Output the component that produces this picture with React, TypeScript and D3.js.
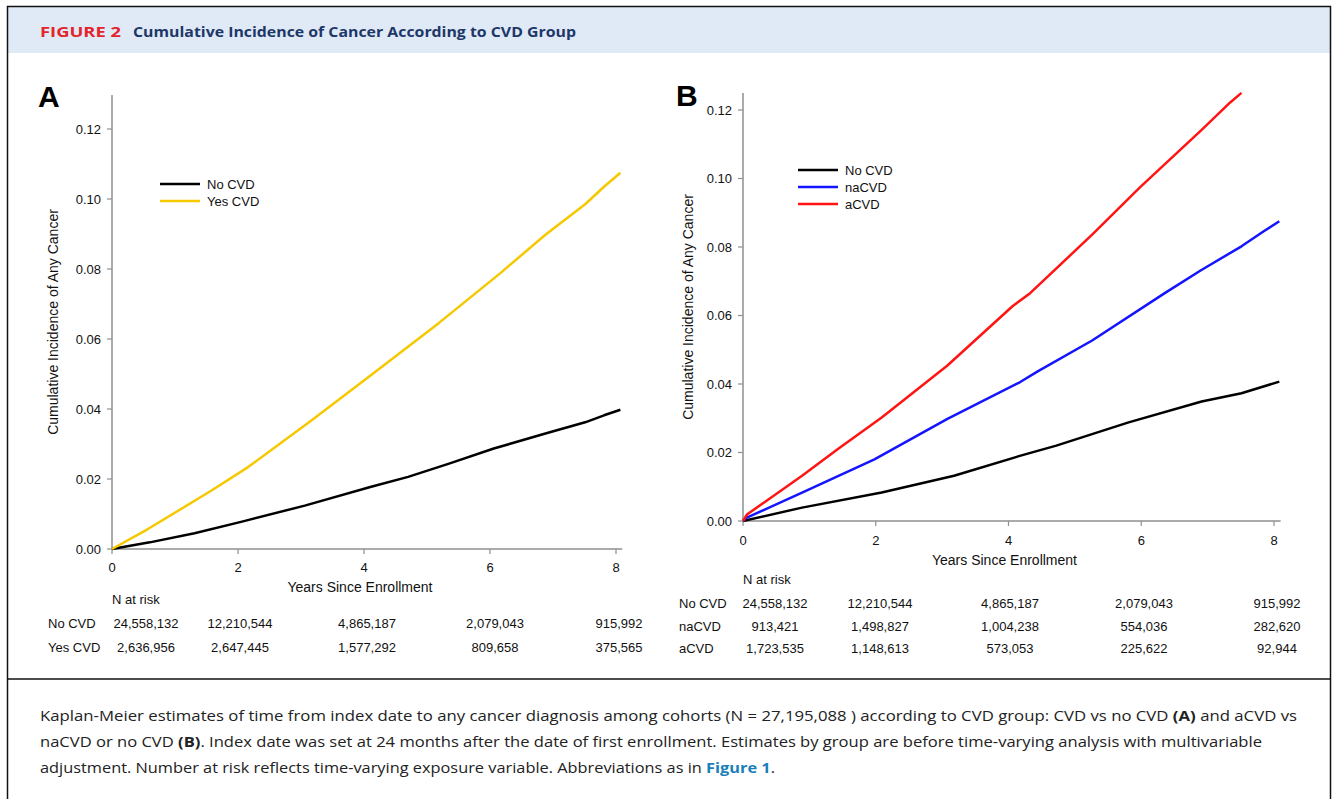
import React from "react";
import * as d3 from "d3";

// ---------- Data ----------
const yearTicks = [0, 2, 4, 6, 8];
const incidenceTicks = [0, 0.02, 0.04, 0.06, 0.08, 0.1, 0.12];

// Panel A
const aNoCvd: [number, number][] = [
  [0, 0], [0.6, 0.0019], [1.31, 0.0045], [2.08, 0.0079], [3.06, 0.0124], [4.1, 0.0177],
  [4.7, 0.0206], [5.35, 0.0244], [6.06, 0.0287], [6.88, 0.033], [7.51, 0.0362],
  [7.81, 0.0382], [8.07, 0.0398],
];
const aYesCvd: [number, number][] = [
  [0, 0], [0.57, 0.0057], [1.58, 0.0167], [2.16, 0.0234], [3.17, 0.0368], [4.15, 0.0502],
  [5.19, 0.0646], [6.17, 0.0789], [6.88, 0.0898], [7.51, 0.0985], [7.81, 0.1035], [8.07, 0.1075],
];

// Panel B
const bNoCvd: [number, number][] = [
  [0, 0], [0.89, 0.0039], [2.09, 0.0083], [3.18, 0.0132], [4.17, 0.019], [4.72, 0.022],
  [5.81, 0.0288], [6.91, 0.0349], [7.51, 0.0373], [8.08, 0.0407],
];
const bNaCvd: [number, number][] = [
  [0, 0], [0.05, 0.0009], [0.89, 0.0083], [1.98, 0.018], [3.08, 0.0298], [4.17, 0.0405],
  [4.44, 0.0437], [5.26, 0.0527], [6.36, 0.0666], [6.9, 0.0732], [7.51, 0.0802],
  [7.84, 0.0845], [8.08, 0.0875],
];
const bACvd: [number, number][] = [
  [0, 0], [0.06, 0.0019], [0.89, 0.0132], [1.43, 0.021], [2.09, 0.0302], [3.08, 0.0454],
  [4.06, 0.0627], [4.33, 0.0666], [5.26, 0.0836], [5.98, 0.0974], [6.91, 0.1142],
  [7.34, 0.1222], [7.51, 0.1250],
];

const riskA = [
  { label: "No CVD", values: ["24,558,132", "12,210,544", "4,865,187", "2,079,043", "915,992"] },
  { label: "Yes CVD", values: ["2,636,956", "2,647,445", "1,577,292", "809,658", "375,565"] },
];
const riskB = [
  { label: "No CVD", values: ["24,558,132", "12,210,544", "4,865,187", "2,079,043", "915,992"] },
  { label: "naCVD", values: ["913,421", "1,498,827", "1,004,238", "554,036", "282,620"] },
  { label: "aCVD", values: ["1,723,535", "1,148,613", "573,053", "225,622", "92,944"] },
];

const ARIAL = "'Liberation Sans', Arial, sans-serif";
const SANS = "'Open Sans', 'Noto Sans', sans-serif";

type Series = { name: string; color: string; data: [number, number][] };

type PanelProps = {
  letter: string;
  letterX: number;
  letterY: number;
  x0: number;
  x1: number;
  xEnd: number;
  yBottom: number;
  yTopTick: number;
  yAxisTop: number;
  series: Series[];
  legendX: number;
  legendY: number;
  yLabelX: number;
  xLabelY: number;
  tickLabelDy: number;
  riskRows: { label: string; values: string[] }[];
  riskTitleY: number;
  riskRowY0: number;
  riskRowGap: number;
  riskLabelX: number;
  riskColX: number[];
};

function Panel(p: PanelProps) {
  const x = d3.scaleLinear().domain([0, 8]).range([p.x0, p.x1]);
  const y = d3.scaleLinear().domain([0, 0.12]).range([p.yBottom, p.yTopTick]);
  const line = d3
    .line<[number, number]>()
    .x((d) => x(d[0]))
    .y((d) => y(d[1]));
  const axisColor = "#8f8f8f";
  const midX = (p.x0 + p.x1) / 2;
  return (
    <g>
      <text x={p.letterX} y={p.letterY} fontFamily={ARIAL} fontWeight="bold" fontSize={30} fill="#000">
        {p.letter}
      </text>
      {/* axes */}
      <line x1={p.x0} x2={p.x0} y1={p.yAxisTop} y2={p.yBottom} stroke={axisColor} strokeWidth={1.5} />
      <line x1={p.x0} x2={x(p.xEnd)} y1={p.yBottom} y2={p.yBottom} stroke={axisColor} strokeWidth={1.5} />
      {incidenceTicks.map((t) => (
        <g key={"y" + t}>
          <line x1={p.x0 - 5} x2={p.x0} y1={y(t)} y2={y(t)} stroke={axisColor} strokeWidth={1.2} />
          <text x={p.x0 - 11} y={y(t)} dy="0.35em" textAnchor="end" fontFamily={ARIAL} fontSize={13} fill="#111">
            {t.toFixed(2)}
          </text>
        </g>
      ))}
      {yearTicks.map((t) => (
        <g key={"x" + t}>
          <line x1={x(t)} x2={x(t)} y1={p.yBottom} y2={p.yBottom + 5} stroke={axisColor} strokeWidth={1.2} />
          <text x={x(t)} y={p.yBottom + p.tickLabelDy} textAnchor="middle" fontFamily={ARIAL} fontSize={13} fill="#111">
            {t}
          </text>
        </g>
      ))}
      <text x={midX - 4} y={p.xLabelY} textAnchor="middle" fontFamily={ARIAL} fontSize={14} fill="#111">
        Years Since Enrollment
      </text>
      <text
        transform={`translate(${p.yLabelX},${(p.yAxisTop + p.yBottom) / 2}) rotate(-90)`}
        textAnchor="middle"
        fontFamily={ARIAL}
        fontSize={14}
        fill="#111"
      >
        Cumulative Incidence of Any Cancer
      </text>
      {/* curves */}
      {p.series.map((s) => (
        <path key={s.name} d={line(s.data) || ""} fill="none" stroke={s.color} strokeWidth={2.5} strokeLinejoin="round" />
      ))}
      {/* legend */}
      {p.series.map((s, i) => (
        <g key={"lg" + s.name}>
          <line
            x1={p.legendX}
            x2={p.legendX + 40}
            y1={p.legendY + i * 17}
            y2={p.legendY + i * 17}
            stroke={s.color}
            strokeWidth={2.6}
          />
          <text x={p.legendX + 47} y={p.legendY + i * 17} dy="0.35em" fontFamily={ARIAL} fontSize={13} fill="#111">
            {s.name}
          </text>
        </g>
      ))}
      {/* risk table */}
      <text x={p.x0} y={p.riskTitleY} fontFamily={ARIAL} fontSize={13} fill="#111">
        N at risk
      </text>
      {p.riskRows.map((r, i) => (
        <g key={"r" + r.label}>
          <text x={p.riskLabelX} y={p.riskRowY0 + i * p.riskRowGap} fontFamily={ARIAL} fontSize={13} fill="#111">
            {r.label}
          </text>
          {r.values.map((v, j) => (
            <text
              key={j}
              x={p.riskColX[j]}
              y={p.riskRowY0 + i * p.riskRowGap}
              textAnchor="middle"
              fontFamily={ARIAL}
              fontSize={13}
              fill="#111"
            >
              {v}
            </text>
          ))}
        </g>
      ))}
    </g>
  );
}

export default function App() {
  const seriesA: Series[] = [
    { name: "No CVD", color: "#000000", data: aNoCvd },
    { name: "Yes CVD", color: "#f6c800", data: aYesCvd },
  ];
  const seriesB: Series[] = [
    { name: "No CVD", color: "#000000", data: bNoCvd },
    { name: "naCVD", color: "#1414ff", data: bNaCvd },
    { name: "aCVD", color: "#ff1414", data: bACvd },
  ];
  return (
    <svg width={1336} height={799} style={{ position: "absolute", left: 0, top: 0, background: "#fff" }}>
      <rect x={0} y={0} width={1336} height={799} fill="#fff" />
      {/* header */}
      <rect x={8} y={7} width={1322} height={46} fill="#dfeaf6" />
      <text x={40} y={37} fontFamily={SANS} fontWeight="bold" fontSize={14} fill="#e3242b" textLength={81} lengthAdjust="spacingAndGlyphs">
        FIGURE 2
      </text>
      <text x={133} y={37} fontFamily={SANS} fontWeight="bold" fontSize={15} fill="#1d3769" textLength={443} lengthAdjust="spacingAndGlyphs">
        Cumulative Incidence of Cancer According to CVD Group
      </text>
      {/* frame */}
      <rect x={7.5} y={6.5} width={1323} height={800} fill="none" stroke="#111" strokeWidth={1.5} />
      <line x1={7.5} x2={1330.5} y1={679} y2={679} stroke="#111" strokeWidth={1.5} />

      <Panel
        letter="A"
        letterX={38}
        letterY={107}
        x0={112}
        x1={616}
        xEnd={8.1}
        yBottom={549}
        yTopTick={129}
        yAxisTop={95}
        series={seriesA}
        legendX={160}
        legendY={184}
        yLabelX={58}
        xLabelY={592}
        tickLabelDy={23}
        riskRows={riskA}
        riskTitleY={604}
        riskRowY0={628}
        riskRowGap={24}
        riskLabelX={48}
        riskColX={[146, 240, 367, 495, 619]}
      />
      <Panel
        letter="B"
        letterX={676}
        letterY={106}
        x0={743}
        x1={1274}
        xEnd={8.1}
        yBottom={521}
        yTopTick={110}
        yAxisTop={93}
        series={seriesB}
        legendX={798}
        legendY={170}
        yLabelX={693}
        xLabelY={565}
        tickLabelDy={24}
        riskRows={riskB}
        riskTitleY={584}
        riskRowY0={608}
        riskRowGap={22.5}
        riskLabelX={679}
        riskColX={[775, 880, 1010, 1144, 1277]}
      />

      {/* caption */}
      <g fontFamily={SANS} fontSize={14.5} fill="#222">
        <text x={40} y={721} textLength={1257} lengthAdjust="spacingAndGlyphs">
          Kaplan-Meier estimates of time from index date to any cancer diagnosis among cohorts (N = 27,195,088 ) according to CVD group: CVD vs no CVD{" "}
          <tspan fontWeight="bold">(A)</tspan> and aCVD vs
        </text>
        <text x={40} y={747} textLength={1222} lengthAdjust="spacingAndGlyphs">
          naCVD or no CVD <tspan fontWeight="bold">(B)</tspan>. Index date was set at 24 months after the date of first enrollment. Estimates by group are before time-varying analysis with multivariable
        </text>
        <text x={40} y={773} textLength={735} lengthAdjust="spacingAndGlyphs">
          adjustment. Number at risk reflects time-varying exposure variable. Abbreviations as in{" "}
          <tspan fontWeight="bold" fill="#1a80b8">Figure 1</tspan>.
        </text>
      </g>
    </svg>
  );
}
